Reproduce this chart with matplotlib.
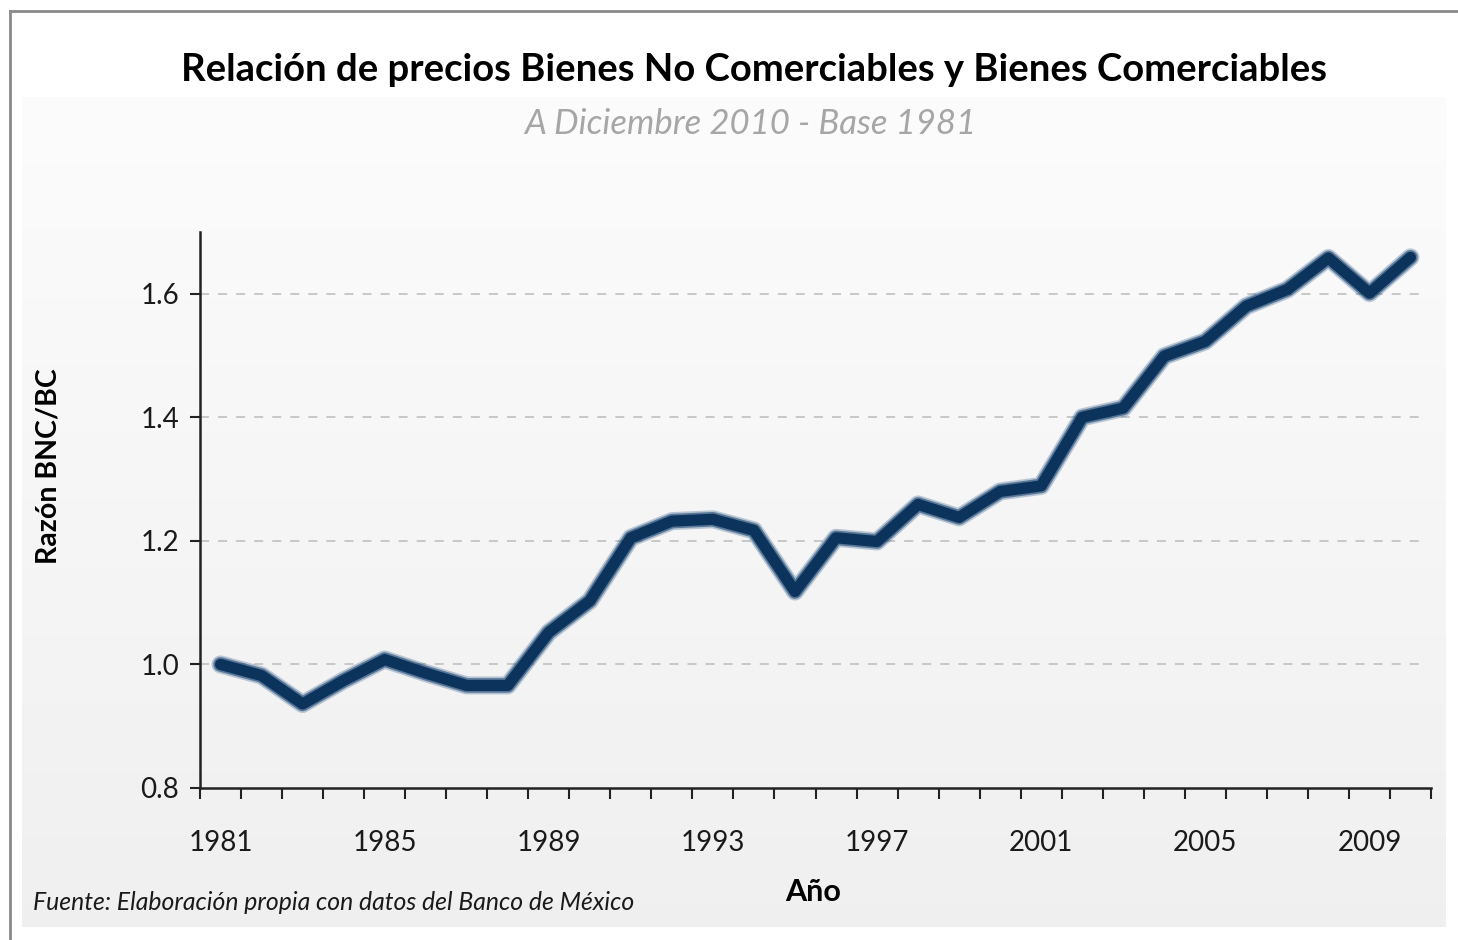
import matplotlib
matplotlib.use('Agg')
import matplotlib.pyplot as plt
import matplotlib.patheffects as pe
import numpy as np

# datos
years = list(range(1981, 2011))
ratio = [1.000, 0.982, 0.936, 0.974, 1.008, 0.986, 0.966, 0.966, 1.052, 1.103,
         1.205, 1.232, 1.235, 1.217, 1.118, 1.205, 1.199, 1.259, 1.238, 1.280,
         1.289, 1.400, 1.415, 1.499, 1.523, 1.580, 1.607, 1.658, 1.601, 1.659]
label_years = years[::4]
y_ticks = [0.8, 1.0, 1.2, 1.4, 1.6]

W, H = 1458, 940
plt.rcParams['font.family'] = ['Lato', 'DejaVu Sans']

fig = plt.figure(figsize=(W / 100, H / 100), dpi=100)
fig.patch.set_facecolor('white')

# marco exterior (gris) arriba e izquierda
fig.add_artist(plt.Line2D([10 / W, 1.0], [1 - 11 / H, 1 - 11 / H], color='#8a8a8a', lw=2))
fig.add_artist(plt.Line2D([10 / W, 10 / W], [0, 1 - 11 / H], color='#8a8a8a', lw=2))

# fondo degradado
bg = fig.add_axes([22 / W, 1 - 927 / H, (1446 - 22) / W, (927 - 97) / H], zorder=0)
grad = np.linspace(0.988, 0.94, 256).reshape(-1, 1)
bg.imshow(np.dstack([grad, grad, grad]), aspect='auto', extent=[0, 1, 0, 1])
bg.axis('off')

ax = fig.add_axes([200 / W, 1 - 788 / H, (1431 - 200) / W, (788 - 232) / H], zorder=1)
ax.patch.set_alpha(0)

# línea con borde difuminado
ax.plot(years, ratio, color='#0b335c', lw=8, solid_capstyle='round', solid_joinstyle='round',
        path_effects=[pe.Stroke(linewidth=13, foreground='#2a5686', alpha=0.3),
                      pe.Stroke(linewidth=10.5, foreground='#1a4470', alpha=0.6),
                      pe.Normal()],
        zorder=3)

ax.set_xlim(years[0] - 0.5, years[-1] + 0.5)
ax.set_ylim(0.8, 1.7)

ax.set_yticks(y_ticks)
ax.set_yticklabels(['%.1f' % v for v in y_ticks], fontsize=20, color='#1a1a1a')
for v in y_ticks[1:]:
    ax.axhline(v, color='#c4c4c4', lw=1.3, ls=(0, (5, 5)), zorder=1, xmax=0.995)

ax.set_xticks([y - 0.5 for y in years] + [years[-1] + 0.5])
ax.set_xticklabels([])
ax.set_xticks(label_years, minor=True)
ax.set_xticklabels([str(y) for y in label_years], minor=True, fontsize=20, color='#1a1a1a')
ax.tick_params(axis='x', which='major', length=8, width=1.5, color='#222222', direction='out')
ax.tick_params(axis='x', which='minor', length=0, pad=30)
ax.tick_params(axis='y', length=7, width=1.5, color='#222222', pad=8)

for s in ['top', 'right']:
    ax.spines[s].set_visible(False)
for s in ['left', 'bottom']:
    ax.spines[s].set_linewidth(1.8)
    ax.spines[s].set_color('#222222')

fig.text(754 / W, 1 - 70 / H, 'Relación de precios Bienes No Comerciables y Bienes Comerciables',
         ha='center', va='center', fontsize=27.5, fontweight='bold', color='black')
fig.text(750 / W, 1 - 124 / H, 'A Diciembre 2010 - Base 1981',
         ha='center', va='center', fontsize=25, style='italic', color='#a6a6a6')
fig.text(48 / W, 1 - 466 / H, 'Razón BNC/BC', rotation=90,
         ha='center', va='center', fontsize=20.5, fontweight='bold', color='black')
fig.text(813 / W, 1 - 892 / H, 'Año', ha='center', va='center',
         fontsize=22, fontweight='bold', color='black')
fig.text(33 / W, 1 - 902 / H, 'Fuente: Elaboración propia con datos del Banco de México',
         ha='left', va='center', fontsize=17.8, style='italic', color='#1a1a1a')

fig.savefig('out.png', dpi=100)
